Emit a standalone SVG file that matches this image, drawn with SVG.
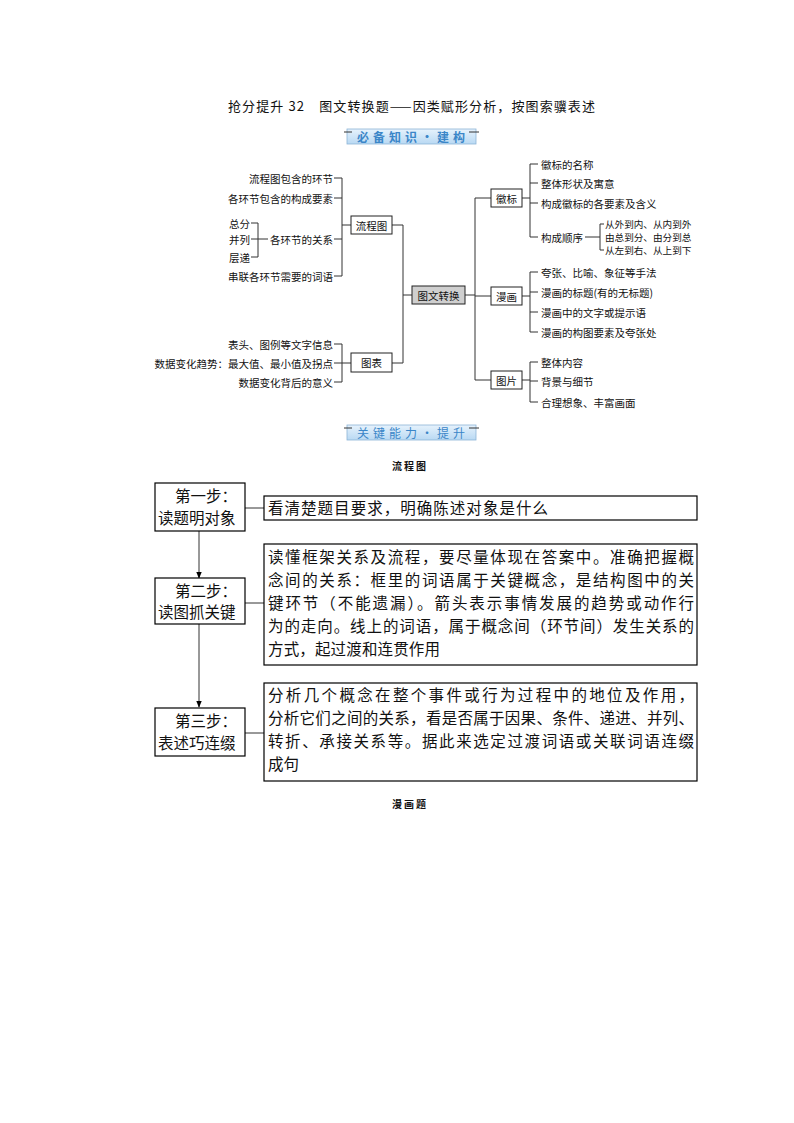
<svg xmlns="http://www.w3.org/2000/svg" width="794" height="1123" viewBox="0 0 794 1123">
<defs>
<linearGradient id="ban" x1="0" y1="0" x2="0" y2="1">
<stop offset="0" stop-color="#e6f2fc"/>
<stop offset="1" stop-color="#b9d9f3"/>
</linearGradient>
<marker id="arr" viewBox="0 0 10 10" refX="9" refY="5" markerWidth="7" markerHeight="7" orient="auto" markerUnits="userSpaceOnUse">
<path d="M0,1 L10,5 L0,9 Z" fill="#000"/>
</marker>
<style>
text{font-family:"Noto Sans CJK SC","Liberation Sans",sans-serif;fill:#111}
.t{font-size:10.5px;dominant-baseline:central}
.s{font-size:9.6px}
.e{text-anchor:end}
.c{text-anchor:middle}
.box{fill:#fff;stroke:#222;stroke-width:1}
.ln{fill:none;stroke:#333;stroke-width:1}
.big{font-size:15.5px}
.sb{fill:#fff;stroke:#000;stroke-width:1.2}
.ban{fill:url(#ban);stroke:#8db5d6;stroke-width:0.8}
.bt{font-size:12px;font-weight:bold;fill:#3b86c8;text-anchor:middle;dominant-baseline:central;letter-spacing:4px}
</style>
</defs>
<rect width="794" height="1123" fill="#fff"/>

<text x="228" y="105" style="font-size:13px;dominant-baseline:central" textLength="367" lengthAdjust="spacing">抢分提升 32　图文转换题——因类赋形分析，按图索骥表述</text>

<g id="banner1">
<rect class="ban" x="347" y="129" width="129" height="15"/>
<path class="ln" d="M344,132 H352 M469,132 H479" stroke="#8db5d6"/>
<text class="bt" x="413" y="136.5">必备知识·建构</text>
</g>

<g id="connectors">
<path class="ln" d="M334,178 H342 M334,198 H342 M334,239 H342 M334,276 H342 M342,178 V276 M342,225 H351"/>
<path class="ln" d="M251,223 H258 M251,239 H268 M251,257 H258 M258,223 V257"/>
<path class="ln" d="M334,344 H342 M334,363 H342 M334,382 H342 M342,344 V382 M342,363 H351"/>
<path class="ln" d="M392,225 H403 M392,363 H403 M403,225 V363 M403,295 H412"/>
<path class="ln" d="M465,295 H475 M475,198 V380 M475,198 H491 M475,296 H491 M475,380 H491"/>
<path class="ln" d="M522,198 H530 M530,164 V237 M530,164 H538 M530,183 H538 M530,203 H538 M530,237 H538"/>
<path class="ln" d="M585,237 H600 M600,224 V250 M600,224 H604 M600,250 H604"/>
<path class="ln" d="M522,296 H530 M530,272 V332 M530,272 H538 M530,292 H538 M530,312 H538 M530,332 H538"/>
<path class="ln" d="M522,380 H530 M530,362 V402 M530,362 H538 M530,381 H538 M530,402 H538"/>
<path class="ln" d="M245,508 H264 M245,603 H264 M245,733 H264" stroke="#000"/>
<path class="ln" d="M199,531 V578" stroke="#000" marker-end="url(#arr)"/>
<path class="ln" d="M199,624 V707" stroke="#000" marker-end="url(#arr)"/>
</g>

<g id="n-left1">
<text class="t e" x="333" y="178">流程图包含的环节</text>
<text class="t e" x="333" y="198">各环节包含的构成要素</text>
<text class="t e" x="333" y="239">各环节的关系</text>
<text class="t e" x="333" y="276">串联各环节需要的词语</text>
<text class="t e" x="250" y="223">总分</text>
<text class="t e" x="250" y="239">并列</text>
<text class="t e" x="250" y="257">层递</text>
</g>
<g id="n-left2">
<text class="t e" x="333" y="344">表头、图例等文字信息</text>
<text class="t e" x="333" y="363">数据变化趋势：最大值、最小值及拐点</text>
<text class="t e" x="333" y="382">数据变化背后的意义</text>
</g>

<g id="n-liuchengtu">
<rect class="box" x="351" y="216" width="41" height="18"/>
<text class="t c" x="371.5" y="225">流程图</text>
</g>
<g id="n-tubiao">
<rect class="box" x="351" y="353" width="41" height="19"/>
<text class="t c" x="371.5" y="362.5">图表</text>
</g>
<g id="n-center">
<rect x="412" y="286" width="53" height="18" fill="#cfcfcf" stroke="#222"/>
<text class="t c" x="438.5" y="295">图文转换</text>
</g>
<g id="n-huibiao">
<rect class="box" x="491" y="189" width="31" height="18"/>
<text class="t c" x="506.5" y="198">徽标</text>
</g>
<g id="n-manhua">
<rect class="box" x="491" y="287" width="31" height="18"/>
<text class="t c" x="506.5" y="296">漫画</text>
</g>
<g id="n-tupian">
<rect class="box" x="491" y="371" width="31" height="18"/>
<text class="t c" x="506.5" y="380">图片</text>
</g>

<g id="n-right1">
<text class="t" x="541" y="164">徽标的名称</text>
<text class="t" x="541" y="183">整体形状及寓意</text>
<text class="t" x="541" y="203">构成徽标的各要素及含义</text>
<text class="t" x="541" y="237">构成顺序</text>
<text class="t s" x="605" y="224">从外到内、从内到外</text>
<text class="t s" x="605" y="237">由总到分、由分到总</text>
<text class="t s" x="605" y="250">从左到右、从上到下</text>
</g>
<g id="n-right2">
<text class="t" x="541" y="272">夸张、比喻、象征等手法</text>
<text class="t" x="541" y="292">漫画的标题(有的无标题)</text>
<text class="t" x="541" y="312">漫画中的文字或提示语</text>
<text class="t" x="541" y="332">漫画的构图要素及夸张处</text>
</g>
<g id="n-right3">
<text class="t" x="541" y="362">整体内容</text>
<text class="t" x="541" y="381">背景与细节</text>
<text class="t" x="541" y="402">合理想象、丰富画面</text>
</g>

<g id="banner2">
<rect class="ban" x="347" y="425" width="129" height="15"/>
<path class="ln" d="M344,428 H352 M469,428 H479" stroke="#8db5d6"/>
<text class="bt" x="413" y="432.5" style="font-weight:normal">关键能力·提升</text>
</g>

<text x="410" y="465" class="c" style="font-size:10px;font-weight:bold;dominant-baseline:central;letter-spacing:2px">流程图</text>

<g id="step1">
<rect class="sb" x="155" y="483" width="90" height="48"/>
<text class="big" x="175" y="502">第一步：</text>
<text class="big" x="158" y="524">读题明对象</text>
</g>
<g id="box1">
<rect class="sb" x="264" y="496" width="433" height="24"/>
<text class="big" x="268" y="514" textLength="280" lengthAdjust="spacing">看清楚题目要求，明确陈述对象是什么</text>
</g>

<g id="step2">
<rect class="sb" x="155" y="578" width="90" height="46"/>
<text class="big" x="175" y="597">第二步：</text>
<text class="big" x="158" y="618">读图抓关键</text>
</g>
<g id="box2">
<rect class="sb" x="264" y="544" width="433" height="121"/>
<text class="big" x="268" y="563" textLength="426" lengthAdjust="spacing">读懂框架关系及流程，要尽量体现在答案中。准确把握概</text>
<text class="big" x="268" y="586" textLength="426" lengthAdjust="spacing">念间的关系：框里的词语属于关键概念，是结构图中的关</text>
<text class="big" x="268" y="609" textLength="426" lengthAdjust="spacing">键环节（不能遗漏）。箭头表示事情发展的趋势或动作行</text>
<text class="big" x="268" y="632" textLength="426" lengthAdjust="spacing">为的走向。线上的词语，属于概念间（环节间）发生关系的</text>
<text class="big" x="268" y="655" textLength="172" lengthAdjust="spacing">方式，起过渡和连贯作用</text>
</g>

<g id="step3">
<rect class="sb" x="155" y="708" width="90" height="48"/>
<text class="big" x="175" y="727">第三步：</text>
<text class="big" x="158" y="749">表述巧连缀</text>
</g>
<g id="box3">
<rect class="sb" x="264" y="683" width="433" height="98"/>
<text class="big" x="268" y="701" textLength="426" lengthAdjust="spacing">分析几个概念在整个事件或行为过程中的地位及作用，</text>
<text class="big" x="268" y="724" textLength="426" lengthAdjust="spacing">分析它们之间的关系，看是否属于因果、条件、递进、并列、</text>
<text class="big" x="268" y="747" textLength="426" lengthAdjust="spacing">转折、承接关系等。据此来选定过渡词语或关联词语连缀</text>
<text class="big" x="268" y="770">成句</text>
</g>

<text x="410" y="803" class="c" style="font-size:10px;font-weight:bold;dominant-baseline:central;letter-spacing:2px">漫画题</text>
</svg>
